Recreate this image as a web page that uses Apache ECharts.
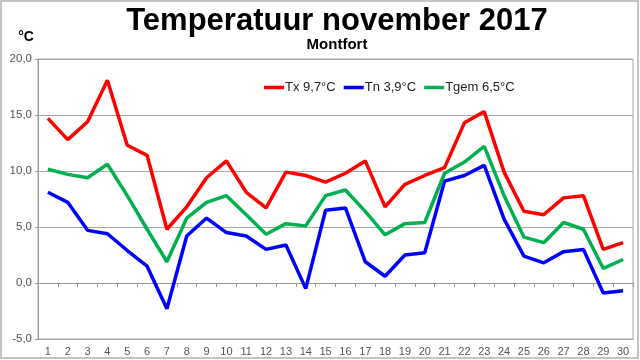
<!DOCTYPE html>
<html><head><meta charset="utf-8">
<script src="https://cdn.jsdelivr.net/npm/echarts@6/dist/echarts.min.js"></script>
<style>html,body{margin:0;padding:0;background:#fff}#c{width:640px;height:360px}</style>
</head><body><div id="c"></div>
<script>
const days = ['1','2','3','4','5','6','7','8','9','10','11','12','13','14','15','16','17','18','19','20','21','22','23','24','25','26','27','28','29','30'];
const tx = [14.7,12.8,14.4,18.1,12.3,11.4,4.8,6.8,9.4,10.9,8.1,6.7,9.9,9.6,9.0,9.8,10.9,6.8,8.8,9.6,10.3,14.3,15.3,9.9,6.4,6.1,7.6,7.8,3.0,3.6];
const tn = [8.1,7.2,4.7,4.4,2.9,1.5,-2.3,4.2,5.8,4.5,4.2,3.0,3.4,-0.5,6.5,6.7,1.9,0.6,2.5,2.7,9.1,9.6,10.5,5.7,2.4,1.8,2.8,3.0,-0.9,-0.7];
const tgem = [10.15,9.7,9.4,10.6,7.8,4.8,1.9,5.8,7.2,7.8,6.1,4.35,5.3,5.1,7.8,8.3,6.4,4.3,5.3,5.4,9.8,10.8,12.2,7.8,4.1,3.6,5.4,4.8,1.3,2.1];
const seriesNames = ['Tx 9,7°C','Tn 3,9°C','Tgem 6,5°C'];
const seriesColors = ['#ff0000','#0000ff','#00b050'];
const titleText = 'Temperatuur november 2017';
const subtitleText = 'Montfort';
const unitText = '°C';

const FONT = "'Liberation Sans', Arial, sans-serif";
const chart = echarts.init(document.getElementById('c'), null, {renderer:'canvas'});
const mk = (name, data, color) => ({
  name, type:'line', data, symbol:'none', xAxisIndex:0,
  lineStyle:{color, width:3.5}, itemStyle:{color}, animation:false
});
chart.setOption({
  animation:false,
  backgroundColor:'#fff',
  textStyle:{fontFamily:FONT},
  grid:{left:38, right:7, top:59, bottom:21, show:true, borderColor:'#a8a8a8', borderWidth:1},
  legend:{
    data:seriesNames, left:259, top:76, itemWidth:20, itemHeight:3.5, itemGap:8,
    icon:'rect',
    textStyle:{fontFamily:FONT, fontSize:13, color:'#222', padding:[0,0,0,-4]}
  },
  xAxis:[{
    type:'category', data:days, boundaryGap:true,
    axisLine:{show:true, onZero:false, lineStyle:{color:'#a8a8a8'}},
    axisTick:{show:false},
    axisLabel:{fontFamily:FONT, fontSize:11, color:'#555', margin:7, interval:0},
    splitLine:{show:false}
  },{
    type:'category', data:days, boundaryGap:true, position:'bottom',
    axisLine:{show:true, onZero:true, lineStyle:{color:'#999'}},
    axisTick:{show:true, length:4, lineStyle:{color:'#999'}},
    axisLabel:{show:false},
    splitLine:{show:false}
  }],
  yAxis:{
    type:'value', min:-5, max:20, interval:5,
    axisLine:{show:true, lineStyle:{color:'#999'}},
    axisTick:{show:true, length:3, lineStyle:{color:'#999'}},
    axisLabel:{fontFamily:FONT, fontSize:11.5, color:'#555', margin:6,
      formatter:v=>v.toFixed(1).replace('.',',')},
    splitLine:{show:true, lineStyle:{color:'#a8a8a8', width:1}}
  },
  graphic:[
    {type:'rect', shape:{x:1,y:1,width:637,height:357}, style:{fill:'none', stroke:'#c4c4c4', lineWidth:2}, silent:true},
    {type:'text', x:337, y:21, style:{text:titleText, font:'bold 31px '+FONT, fill:'#000', textAlign:'center', textVerticalAlign:'middle'}},
    {type:'text', x:337, y:45, style:{text:subtitleText, font:'bold 15px '+FONT, fill:'#000', textAlign:'center', textVerticalAlign:'middle'}},
    {type:'text', x:26, y:37, style:{text:unitText, font:'bold 14px '+FONT, fill:'#000', textAlign:'center', textVerticalAlign:'middle'}}
  ],
  series:[mk(seriesNames[0], tx, seriesColors[0]), mk(seriesNames[1], tn, seriesColors[1]), mk(seriesNames[2], tgem, seriesColors[2])]
});
</script></body></html>
